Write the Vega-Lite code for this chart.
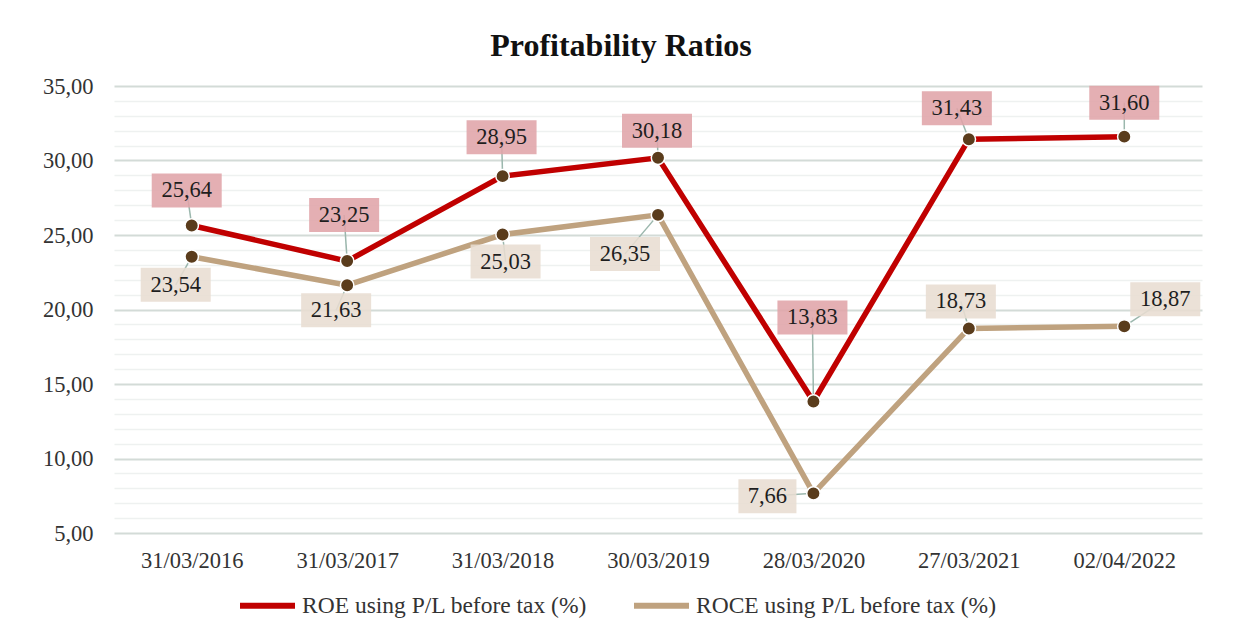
{
  "$schema": "https://vega.github.io/schema/vega-lite/v6.json",
  "width": 1088,
  "height": 447,
  "autosize": {"type": "none"},
  "padding": {"left": 114, "top": 86, "right": 34, "bottom": 107},
  "background": "white",
  "title": {"text": "Profitability Ratios", "font": "Liberation Serif", "fontSize": 32, "fontWeight": "bold", "color": "#111111", "anchor": "middle", "dx": -37, "offset": 12},
  "config": {
    "view": {"stroke": null},
    "font": "Liberation Serif",
    "locale": {"number": {"decimal": ",", "thousands": ".", "grouping": [3], "currency": ["", " €"]}}
  },
  "data": {"values": [
    {"date": "31/03/2016", "series": "ROE using P/L before tax (%)", "value": 25.64},
    {"date": "31/03/2017", "series": "ROE using P/L before tax (%)", "value": 23.25},
    {"date": "31/03/2018", "series": "ROE using P/L before tax (%)", "value": 28.95},
    {"date": "30/03/2019", "series": "ROE using P/L before tax (%)", "value": 30.18},
    {"date": "28/03/2020", "series": "ROE using P/L before tax (%)", "value": 13.83},
    {"date": "27/03/2021", "series": "ROE using P/L before tax (%)", "value": 31.43},
    {"date": "02/04/2022", "series": "ROE using P/L before tax (%)", "value": 31.60},
    {"date": "31/03/2016", "series": "ROCE using P/L before tax (%)", "value": 23.54},
    {"date": "31/03/2017", "series": "ROCE using P/L before tax (%)", "value": 21.63},
    {"date": "31/03/2018", "series": "ROCE using P/L before tax (%)", "value": 25.03},
    {"date": "30/03/2019", "series": "ROCE using P/L before tax (%)", "value": 26.35},
    {"date": "28/03/2020", "series": "ROCE using P/L before tax (%)", "value": 7.66},
    {"date": "27/03/2021", "series": "ROCE using P/L before tax (%)", "value": 18.73},
    {"date": "02/04/2022", "series": "ROCE using P/L before tax (%)", "value": 18.87}
  ]},
  "encoding": {
    "x": {
      "field": "date", "type": "ordinal", "sort": null,
      "scale": {"type": "point", "padding": 0.5},
      "axis": {"title": null, "domain": false, "ticks": false, "grid": false, "labelAngle": 0, "labelFont": "Liberation Serif", "labelFontSize": 22.5, "labelColor": "#333333", "labelPadding": 16}
    },
    "y": {
      "field": "value", "type": "quantitative",
      "scale": {"domain": [5, 35], "nice": false, "zero": false},
      "axis": {
        "title": null, "domain": false, "ticks": false,
        "values": [5,6,7,8,9,10,11,12,13,14,15,16,17,18,19,20,21,22,23,24,25,26,27,28,29,30,31,32,33,34,35],
        "format": ".2f",
        "labelExpr": "datum.value % 5 === 0 ? datum.label : ''",
        "labelOverlap": false,
        "labelFont": "Liberation Serif", "labelFontSize": 22.5, "labelColor": "#333333", "labelPadding": 21,
        "gridColor": {"condition": {"test": "datum.value % 5 === 0", "value": "#D3DBD7"}, "value": "#EEF1F0"},
        "gridWidth": {"condition": {"test": "datum.value % 5 === 0", "value": 2}, "value": 1.5}
      }
    }
  },
  "layer": [
    {
      "mark": {
        "type": "rule", "color": "#9BB7AD", "strokeWidth": 1.5,
        "x2Offset": {"expr": "(indexof(datum.series,'ROE')===0 ? {'31/03/2016':-5,'31/03/2017':-3,'31/03/2018':-1,'30/03/2019':-1,'28/03/2020':-1,'27/03/2021':-12,'02/04/2022':0} : {'31/03/2016':-16,'31/03/2017':-11,'31/03/2018':3,'30/03/2019':-33,'28/03/2020':-46,'27/03/2021':-8,'02/04/2022':41})[datum.date]"},
        "y2Offset": {"expr": "(indexof(datum.series,'ROE')===0 ? {'31/03/2016':-35,'31/03/2017':-46,'31/03/2018':-39,'30/03/2019':-27,'28/03/2020':-84,'27/03/2021':-31,'02/04/2022':-34} : {'31/03/2016':28,'31/03/2017':25,'31/03/2018':27,'30/03/2019':39,'28/03/2020':3,'27/03/2021':-27,'02/04/2022':-27})[datum.date]"}
      },
      "encoding": {"x2": {"field": "date"}, "y2": {"field": "value"}}
    },
    {
      "mark": {"type": "line", "strokeWidth": 5.5},
      "encoding": {
        "color": {
          "field": "series", "type": "nominal",
          "scale": {"domain": ["ROE using P/L before tax (%)", "ROCE using P/L before tax (%)"], "range": ["#C00000", "#BFA27F"]},
          "legend": {
            "title": null, "orient": "none", "legendX": 123, "legendY": 489, "direction": "horizontal",
            "symbolType": "stroke", "symbolStrokeWidth": 6, "symbolSize": 3025,
            "labelFont": "Liberation Serif", "labelFontSize": 23.5, "labelColor": "#333333",
            "columnPadding": 34, "labelOffset": 4, "labelLimit": 400
          }
        }
      }
    },
    {
      "mark": {"type": "circle", "fill": "#5A3C1C", "stroke": "white", "strokeWidth": 1.5, "size": 180, "opacity": 1}
    },
    {
      "mark": {
        "type": "point", "filled": true, "size": 4900, "strokeWidth": 0, "opacity": 1, "fillOpacity": 0.88,
        "shape": {"expr": "datum.value < 10 ? 'M-0.829,-0.4857H0.829V0.4857H-0.829Z' : 'M-1,-0.4857H1V0.4857H-1Z'"},
        "fill": {"expr": "indexof(datum.series,'ROE')===0 ? '#E0A4A9' : '#E8DDD1'"},
        "xOffset": {"expr": "(indexof(datum.series,'ROE')===0 ? {'31/03/2016':-5,'31/03/2017':-3,'31/03/2018':-1,'30/03/2019':-1,'28/03/2020':-1,'27/03/2021':-12,'02/04/2022':0} : {'31/03/2016':-16,'31/03/2017':-11,'31/03/2018':3,'30/03/2019':-33,'28/03/2020':-46,'27/03/2021':-8,'02/04/2022':41})[datum.date]"},
        "yOffset": {"expr": "(indexof(datum.series,'ROE')===0 ? {'31/03/2016':-35,'31/03/2017':-46,'31/03/2018':-39,'30/03/2019':-27,'28/03/2020':-84,'27/03/2021':-31,'02/04/2022':-34} : {'31/03/2016':28,'31/03/2017':25,'31/03/2018':27,'30/03/2019':39,'28/03/2020':3,'27/03/2021':-27,'02/04/2022':-27})[datum.date]"}
      }
    },
    {
      "mark": {
        "type": "text", "font": "Liberation Serif", "fontSize": 22.5, "color": "#1E1E1E", "baseline": "middle", "align": "center",
        "xOffset": {"expr": "(indexof(datum.series,'ROE')===0 ? {'31/03/2016':-5,'31/03/2017':-3,'31/03/2018':-1,'30/03/2019':-1,'28/03/2020':-1,'27/03/2021':-12,'02/04/2022':0} : {'31/03/2016':-16,'31/03/2017':-11,'31/03/2018':3,'30/03/2019':-33,'28/03/2020':-46,'27/03/2021':-8,'02/04/2022':41})[datum.date]"},
        "yOffset": {"expr": "(indexof(datum.series,'ROE')===0 ? {'31/03/2016':-35,'31/03/2017':-46,'31/03/2018':-39,'30/03/2019':-27,'28/03/2020':-84,'27/03/2021':-31,'02/04/2022':-34} : {'31/03/2016':28,'31/03/2017':25,'31/03/2018':27,'30/03/2019':39,'28/03/2020':3,'27/03/2021':-27,'02/04/2022':-27})[datum.date]"}
      },
      "encoding": {"text": {"field": "value", "type": "quantitative", "format": ".2f"}}
    }
  ]
}
